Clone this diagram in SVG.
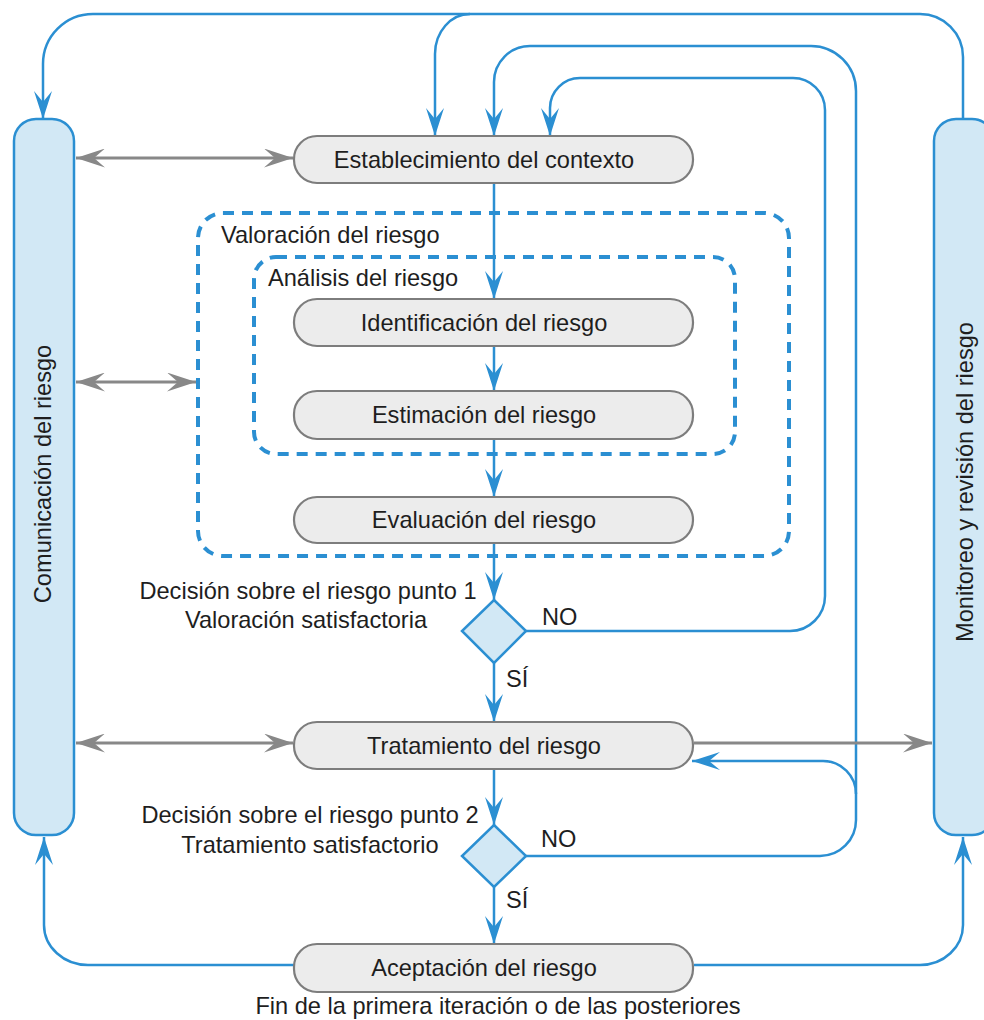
<svg xmlns="http://www.w3.org/2000/svg" width="984" height="1020" viewBox="0 0 984 1020">
<style>
.box{fill:#ececec;stroke:#7d7d7d;stroke-width:2.2}
.bar{fill:#d2e8f5;stroke:#2b8fd2;stroke-width:2.5}
.dec{fill:#d2e8f5;stroke:#2b8fd2;stroke-width:2.5}
.zone{fill:none;stroke:#2b8fd2;stroke-width:4;stroke-dasharray:11 8}
.flow{fill:none;stroke:#2b8fd2;stroke-width:2.5}
.flow.arrow{marker-end:url(#ab)}
.link{fill:none;stroke:#888888;stroke-width:3}
text{font-family:"Liberation Sans",Arial,sans-serif;font-size:23.6px;fill:#1e1e1e}
.c{text-anchor:middle}
</style>
<defs>
<marker id="ab" markerUnits="userSpaceOnUse" markerWidth="28" markerHeight="18" viewBox="0 0 28 18" refX="28" refY="9" orient="auto"><path d="M0,0 L28,9 L0,18 L11,9 z" fill="#2b8fd2"/></marker>
<marker id="ag" markerUnits="userSpaceOnUse" markerWidth="29" markerHeight="19" viewBox="0 0 29 19" refX="29" refY="9.5" orient="auto-start-reverse"><path d="M0,0 L29,9.5 L0,19 L11,9.5 z" fill="#888888"/></marker>
</defs>

<!-- assessment zones -->
<g id="valoracion">
<rect class="zone" x="198" y="213" width="591" height="343" rx="25"/>
<text x="221" y="243">Valoración del riesgo</text>
</g>
<g id="analisis">
<rect class="zone" x="254" y="257" width="481" height="197" rx="22"/>
<text x="268" y="286">Análisis del riesgo</text>
</g>

<!-- connectors -->
<g id="connectors">
<path class="flow arrow" d="M494,183 V299"/>
<path class="flow arrow" d="M494,346 V391"/>
<path class="flow arrow" d="M494,439 V497"/>
<path class="flow arrow" d="M494,543 V600"/>
<path class="flow arrow" d="M494,663 V722"/>
<path class="flow arrow" d="M494,769 V825"/>
<path class="flow arrow" d="M494,887 V944"/>
<!-- NO from decision 1 back to context -->
<path class="flow arrow" d="M526,631 H790 A35,35 0 0 0 825,596 V110 A32,32 0 0 0 793,78 H580 A30,30 0 0 0 550,108 V136"/>
<!-- NO from decision 2 back to context -->
<path class="flow arrow" d="M526,856 H820 A36,36 0 0 0 856,820 V91 A45,45 0 0 0 811,46 H530 A36,36 0 0 0 494,82 V136"/>
<!-- NO from decision 2 back to treatment -->
<path class="flow arrow" d="M856,794 A33,33 0 0 0 823,761 H692"/>
<!-- monitoring loop over the top -->
<path class="flow arrow" d="M963,120 V57 A43,43 0 0 0 920,14 H93 A50,50 0 0 0 43,64 V119"/>
<path class="flow arrow" d="M470,14 A35,40 0 0 0 435,54 V136"/>
<!-- acceptance to both side bars -->
<path class="flow arrow" d="M295,965 H88 A44,40 0 0 1 44,925 V837"/>
<path class="flow arrow" d="M694,965 H920 A43,40 0 0 0 963,925 V837"/>
<!-- communication / monitoring links -->
<path class="link" marker-start="url(#ag)" marker-end="url(#ag)" d="M76,158 H293"/>
<path class="link" marker-start="url(#ag)" marker-end="url(#ag)" d="M76,382 H196"/>
<path class="link" marker-start="url(#ag)" marker-end="url(#ag)" d="M76,743 H293"/>
<path class="link" marker-end="url(#ag)" d="M694,743 H932"/>
</g>

<g id="comunicacion">
<rect class="bar" x="14" y="119" width="60" height="716" rx="22"/>
<text class="c" transform="translate(51,474) rotate(-90)">Comunicación del riesgo</text>
</g>
<g id="monitoreo">
<rect class="bar" x="934" y="119" width="60" height="716" rx="22"/>
<text class="c" transform="translate(973,482) rotate(-90)">Monitoreo y revisión del riesgo</text>
</g>

<g id="contexto">
<rect class="box" x="294" y="136" width="399" height="47" rx="23"/>
<text class="c" x="484" y="168">Establecimiento del contexto</text>
</g>
<g id="identificacion">
<rect class="box" x="294" y="299" width="399" height="47" rx="23"/>
<text class="c" x="484" y="331">Identificación del riesgo</text>
</g>
<g id="estimacion">
<rect class="box" x="294" y="391" width="399" height="48" rx="23"/>
<text class="c" x="484" y="423">Estimación del riesgo</text>
</g>
<g id="evaluacion">
<rect class="box" x="294" y="497" width="399" height="46" rx="23"/>
<text class="c" x="484" y="528">Evaluación del riesgo</text>
</g>

<g id="decision1">
<polygon class="dec" points="494,600 526,631 494,663 462,631"/>
<text class="c" x="308" y="599">Decisión sobre el riesgo punto 1</text>
<text class="c" x="306" y="628">Valoración satisfactoria</text>
<text x="542" y="625">NO</text>
<text x="506" y="687">SÍ</text>
</g>

<g id="tratamiento">
<rect class="box" x="294" y="722" width="399" height="47" rx="23"/>
<text class="c" x="484" y="754">Tratamiento del riesgo</text>
</g>

<g id="decision2">
<polygon class="dec" points="494,825 526,856 494,887 462,856"/>
<text class="c" x="310" y="823">Decisión sobre el riesgo punto 2</text>
<text class="c" x="310" y="853">Tratamiento satisfactorio</text>
<text x="541" y="847">NO</text>
<text x="506" y="908">SÍ</text>
</g>

<g id="aceptacion">
<rect class="box" x="294" y="944" width="399" height="48" rx="23"/>
<text class="c" x="484" y="976">Aceptación del riesgo</text>
<text class="c" x="498" y="1014">Fin de la primera iteración o de las posteriores</text>
</g>
</svg>
